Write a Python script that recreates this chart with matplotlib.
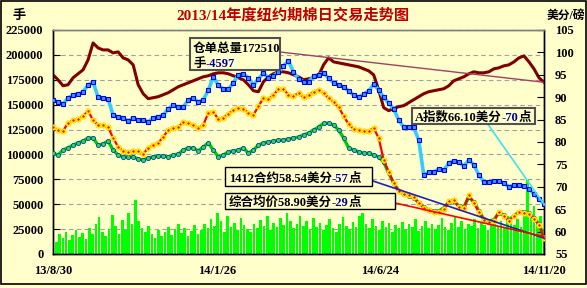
import matplotlib
matplotlib.use("Agg")
import matplotlib.pyplot as plt
import numpy as np
from matplotlib.patches import Rectangle
from matplotlib.text import Annotation

# ---------------- data ----------------
date_labels = ["13/8/30", "14/1/26", "14/6/24", "14/11/20"]

# open interest / 仓单总量 (lots, left axis)
oi = [180000, 175000, 169000, 170000, 177000, 181000, 185000, 195000, 212000, 207000,
      205000, 205000, 202000, 203000, 197000, 195000, 190000, 170000, 161000, 156000,
      157000, 158000, 160000, 162000, 165000, 168000, 170000, 172000, 174000, 176000,
      178000, 179000, 181000, 182000, 182000, 181000, 179000, 177000, 175000, 170000,
      164000, 163000, 173000, 178000, 181000, 183000, 183000, 182000, 180000, 178000,
      175000, 176000, 177000, 179000, 190000, 197000, 193000, 192000, 191000, 190000,
      189000, 188000, 186000, 184000, 180000, 165000, 147000, 144000, 146000, 148000,
      149000, 152000, 155000, 158000, 161000, 163000, 164000, 165000, 166000, 169000,
      174000, 176000, 178000, 181000, 183000, 182000, 182000, 183000, 186000, 187000,
      189000, 190000, 193000, 197000, 199000, 193000, 186000, 177000, 172510]

# Cotlook A index (cents/lb, right axis)
a_index = [89.4, 88.9, 88.5, 89.8, 90.5, 90.7, 91.2, 92.7, 93.4, 90.0,
           89.8, 89.6, 86.0, 85.6, 85.4, 84.7, 85.4, 84.9, 84.9, 84.5,
           85.4, 85.6, 86.0, 87.4, 88.3, 87.8, 87.8, 89.4, 89.8, 88.9,
           89.4, 91.6, 94.5, 92.7, 91.8, 91.8, 93.2, 95.0, 95.2, 94.3,
           92.7, 94.1, 95.4, 94.3, 94.7, 95.6, 97.0, 98.1, 95.6, 94.1,
           93.4, 93.4, 94.7, 95.0, 95.4, 94.3, 93.2, 92.7, 92.3, 91.4,
           90.5, 90.0, 90.7, 91.4, 92.9, 91.6, 90.0, 88.7, 87.4, 84.9,
           83.3, 83.3, 83.3, 80.4, 72.6, 73.3, 73.3, 74.0, 73.7, 75.3,
           75.8, 75.5, 74.6, 76.0, 74.9, 72.6, 71.1, 71.1, 71.3, 71.3,
           70.8, 70.0, 70.4, 70.4, 70.2, 69.5, 68.4, 67.3, 66.10]

# 1412 contract (cents/lb, right axis)
c1412 = [83.3, 82.7, 82.5, 84.2, 84.9, 85.1, 85.8, 86.9, 84.9, 83.8,
         83.8, 83.3, 80.9, 78.9, 78.0, 77.8, 78.0, 78.0, 77.3, 78.7,
         79.3, 79.8, 81.1, 82.7, 83.1, 83.3, 84.5, 84.2, 83.8, 83.1,
         83.8, 86.5, 86.7, 85.1, 85.4, 86.3, 87.1, 87.6, 87.4, 86.5,
         86.0, 88.0, 89.8, 89.6, 90.5, 91.8, 91.8, 90.5, 90.3, 90.9,
         90.0, 90.5, 91.2, 91.6, 90.9, 89.8, 88.9, 87.8, 85.8, 84.0,
         82.9, 82.7, 82.5, 82.5, 83.1, 80.9, 76.0, 73.3, 70.8, 69.1,
         68.4, 68.2, 67.7, 66.4, 65.3, 64.8, 64.4, 64.4, 65.0, 66.8,
         67.1, 65.5, 65.3, 68.2, 66.4, 64.4, 62.6, 62.1, 62.4, 64.4,
         63.5, 62.4, 63.5, 64.4, 64.2, 63.9, 62.8, 61.5, 58.54]

# composite average price (cents/lb, right axis)
avg_price = [77.5, 77.1, 78.2, 78.7, 79.3, 79.8, 80.2, 80.9, 80.9, 79.3,
             79.6, 80.2, 78.2, 77.1, 76.7, 76.7, 76.7, 76.2, 76.0, 76.4,
             76.7, 76.9, 76.9, 76.7, 77.1, 77.3, 78.2, 78.7, 78.7, 78.0,
             78.9, 79.8, 78.2, 76.7, 77.1, 77.8, 78.0, 78.2, 78.7, 77.5,
             78.2, 79.3, 79.8, 80.0, 80.2, 80.4, 80.4, 80.7, 80.9, 81.1,
             81.6, 82.0, 82.7, 83.3, 84.2, 84.2, 83.8, 82.7, 80.9, 78.7,
             78.2, 77.8, 77.5, 77.5, 77.1, 76.7, 75.5, 73.1, 70.8, 69.1,
             68.4, 67.9, 67.5, 66.4, 65.5, 64.8, 64.6, 64.6, 65.3, 66.6,
             66.8, 65.7, 65.5, 67.7, 66.6, 64.6, 62.8, 62.4, 62.6, 64.2,
             63.7, 62.6, 63.5, 64.4, 64.4, 64.2, 63.0, 61.7, 58.90]

# daily volume (thousand lots, left axis)
volume_k = [18, 12, 20, 16, 22, 14, 19, 24, 17, 21, 15, 26, 20, 30, 37,
            22, 18, 25, 39, 28, 20, 34, 24, 41, 30, 54, 33, 26, 22, 28,
            20, 16, 24, 18, 22, 27, 19, 25, 30, 21, 26, 18, 23, 29, 20,
            24, 30, 26, 35, 28, 41, 33, 22, 38, 27, 31, 24, 36, 29, 25,
            22, 30, 26, 34, 28, 38, 24, 31, 27, 36, 29, 41, 33, 26, 30,
            38, 28, 33, 25, 36, 27, 31, 24, 29, 35, 26, 22, 30, 37, 28,
            25, 32, 27, 38, 41, 30, 26, 35, 28, 24, 33, 27, 31, 22, 29,
            26, 32, 24, 30, 27, 35, 23, 28, 33, 26, 30, 25, 29, 36, 27,
            24, 31, 38, 27, 33, 25, 30, 28, 35, 26, 32, 29, 24, 34, 30,
            28, 33, 26, 38, 31, 29, 35, 27, 42, 74, 36, 48, 30, 38, 25]

oi_change = "-4597"
a_change = "-70"
c1412_change = "-57"
avg_change = "-29"

# ---------------- style ----------------
W, H = 587, 288
BG = "#FFFFCC"
FAM = ["Liberation Serif", "Noto Sans CJK SC"]
plt.rcParams["font.family"] = FAM
plt.rcParams["font.weight"] = "bold"

fig = plt.figure(figsize=(W / 100, H / 100), dpi=100, facecolor=BG)
ax = fig.add_axes([53 / W, 34 / H, 491 / W, 224 / H])
ax2 = ax.twinx()
ax.set_facecolor(BG)
ax2.patch.set_visible(False)

n = len(oi)
x = np.arange(n)
xb = np.linspace(0, n - 1, len(volume_k))
bw = (n - 1) / (len(volume_k) - 1) * 0.8

ax.bar(xb, np.array(volume_k) * 1000, width=bw, color="#00FF00", linewidth=0, zorder=2)
ax.plot(x, oi, color="#800000", lw=2.2, zorder=3, solid_joinstyle="round")

ax2.plot(x, a_index, color="#33CCFF", lw=2.6, marker="s", ms=2.8, mfc="#3399FF",
         mec="#0000E0", mew=0.8, zorder=3)
ax2.plot(x, avg_price, color="#00CC00", lw=2.4, marker="o", ms=3.0, mfc="#33DD33",
         mec="#0040C0", mew=0.6, zorder=4)
ax2.plot(x, c1412, color="#FF0000", lw=1.6, marker="o", ms=3.8, mfc="#FFFF00",
         mec="#FFD000", mew=0.6, zorder=5)
ax2.plot(x, c1412, color="#FF0000", lw=0, marker=".", ms=1.5, zorder=6)

ax.set_xlim(0, n - 1)
ax.set_ylim(0, 225000)
ax2.set_ylim(55, 105)
ax.set_yticks(np.arange(0, 225001, 25000))
ax2.set_yticks(np.arange(55, 106, 5))
ax.set_xticks(np.linspace(0, n - 1, len(date_labels)))
ax.set_xticklabels(date_labels)

ax.yaxis.grid(True, linestyle=(0, (4, 3)), color="#A0A0A0", lw=0.8)
ax.set_axisbelow(True)

for a in (ax, ax2):
    for s in ("left", "right", "bottom"):
        a.spines[s].set_color("black")
        a.spines[s].set_linewidth(1.0)
    a.spines["top"].set_color("#808080")
    a.spines["top"].set_linewidth(1.0)

ax.tick_params(axis="y", direction="in", length=5, pad=7, labelsize=9)
ax2.tick_params(axis="y", direction="in", length=5, pad=8, labelsize=9)
ax.tick_params(axis="x", direction="in", length=5, pad=8, labelsize=9)
for lab in ax.get_yticklabels() + ax2.get_yticklabels() + ax.get_xticklabels():
    lab.set_fontweight("bold")

# title and axis unit labels
fig.text(293 / W, 1 - 15 / H, "2013/14年度纽约期棉日交易走势图", color="#C00000",
         fontsize=11, fontweight="bold", ha="center", va="center")
fig.text(19 / W, 1 - 16 / H, "手", fontsize=9.5, fontweight="bold", ha="center", va="center")
fig.text(566 / W, 1 - 16 / H, "美分/磅", fontsize=8.5, fontweight="bold", ha="center", va="center")


def chain(x_px, y_px, parts, size=9):
    first = Annotation(parts[0][0], xy=(x_px / W, 1 - y_px / H), xycoords="figure fraction",
                       color=parts[0][1], fontsize=size, fontweight="bold",
                       ha="left", va="baseline")
    first.set_zorder(20)
    fig.add_artist(first)
    prev = first
    for s, c in parts[1:]:
        t = Annotation(s, xy=(1, 0), xycoords=prev, color=c, fontsize=size,
                       fontweight="bold", ha="left", va="bottom")
        t.set_zorder(20)
        fig.add_artist(t)
        prev = t
    return first


def box(x0, y0, x1, y1, ec="black", lw=1.0):
    fig.patches.append(Rectangle((x0 / W, 1 - y1 / H), (x1 - x0) / W, (y1 - y0) / H,
                                 transform=fig.transFigure, facecolor=BG, edgecolor=ec,
                                 lw=lw, zorder=15))


# connectors
ax.annotate("", xy=(n - 1, oi[-1]), xycoords="data", xytext=(280 / W, 1 - 52 / H),
            textcoords="figure fraction",
            arrowprops=dict(arrowstyle="-", color="#A0406A", lw=1.0, shrinkA=0, shrinkB=0),
            zorder=10)
ax2.annotate("", xy=(n - 1, a_index[-1]), xycoords="data", xytext=(487 / W, 1 - 123 / H),
             textcoords="figure fraction",
             arrowprops=dict(arrowstyle="-", color="#40E0F0", lw=1.2, shrinkA=0, shrinkB=0),
             zorder=10)
ax2.annotate("", xy=(n - 1, c1412[-1]), xycoords="data", xytext=(370 / W, 1 - 180 / H),
             textcoords="figure fraction",
             arrowprops=dict(arrowstyle="-", color="#2020C0", lw=1.2, shrinkA=0, shrinkB=0),
             zorder=10)
ax2.annotate("", xy=(n - 1, avg_price[-1]), xycoords="data", xytext=(395 / W, 1 - 203 / H),
             textcoords="figure fraction",
             arrowprops=dict(arrowstyle="-", color="#FF0000", lw=1.2, shrinkA=0, shrinkB=0),
             zorder=10)

# label boxes
box(190, 38, 280, 70, ec="#505050", lw=1.5)
chain(193, 52, [("仓单总量%d" % oi[-1], "black")])
chain(193, 67, [("手", "black"), (oi_change, "#000099")])

box(412, 108, 535, 124, ec="#505050", lw=1.5)
chain(415, 121, [("A指数%.2f美分" % a_index[-1], "black"), (a_change, "#000099"), ("点", "black")])

box(225, 167, 372, 186)
chain(229, 182, [("1412合约%.2f美分" % c1412[-1], "black"), (c1412_change, "#000099"), ("点", "black")])

box(225, 193, 395, 209)
chain(229, 206, [("综合均价%.2f美分" % avg_price[-1], "black"), (avg_change, "#000099"), ("点", "black")])

# outer frame
fig.patches.append(Rectangle((1 / W, 4 / H), (W - 2.5) / W, (H - 5) / H, transform=fig.transFigure,
                             facecolor="none", edgecolor="black", lw=1.2, zorder=30))

fig.savefig("out.png", dpi=100, facecolor=BG)
